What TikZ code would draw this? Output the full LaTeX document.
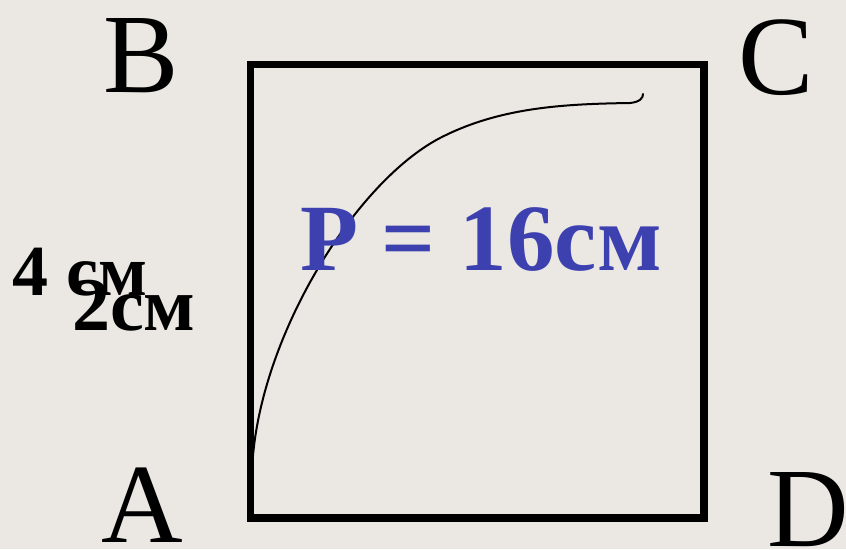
\documentclass[tikz,border=0pt]{standalone}
\usepackage{fontspec}
\setmainfont{Liberation Serif}
\definecolor{bgc}{RGB}{235,231,227}
\definecolor{pblue}{RGB}{61,65,176}
\begin{document}
\begin{tikzpicture}[x=1pt,y=-1pt,
  vert/.style={font=\fontsize{113}{113}\selectfont, anchor=base west, inner sep=0pt},
  side/.style={font=\bfseries, anchor=base west, inner sep=0pt},
  sq/.style={line width=7.5pt, draw=black}]
\fill[bgc] (0,0) rectangle (846,549);
\useasboundingbox (0,0) rectangle (846,549);
\coordinate (pA) at (250.5,518);
\coordinate (pB) at (250.5,64.5);
\coordinate (pC) at (704,64.5);
\coordinate (pD) at (704,518);
\draw[sq] (pA) -- (pB) -- (pC) -- (pD) -- cycle;
\coordinate (c0) at (252.5,462);
\coordinate (c1) at (440,138);
\coordinate (c2) at (630,103);
\coordinate (c3) at (643,94);
\draw[line width=2pt, line cap=round] (c0) .. controls (261,335) and (355,182.5) .. (c1)
  .. controls (500,107) and (565,104) .. (c2)
  .. controls (640,102) and (643,98) .. (c3);
\node[vert] (B) at (103,92) {B};
\node[vert] (C) at (738,94) {C};
\node[vert] (A) at (101,542) {A};
\node[vert] (D) at (767,546) {D};
\node[side, font=\bfseries\fontsize{95}{95}\selectfont, text=pblue] (P) at (300,270) {P = 16см};
\node[side, font=\bfseries\fontsize{72}{72}\selectfont] (s4) at (12,295) {4 см};
\node[side, font=\bfseries\fontsize{76}{76}\selectfont] (s2) at (72,330) {2см};
\end{tikzpicture}
\end{document}
